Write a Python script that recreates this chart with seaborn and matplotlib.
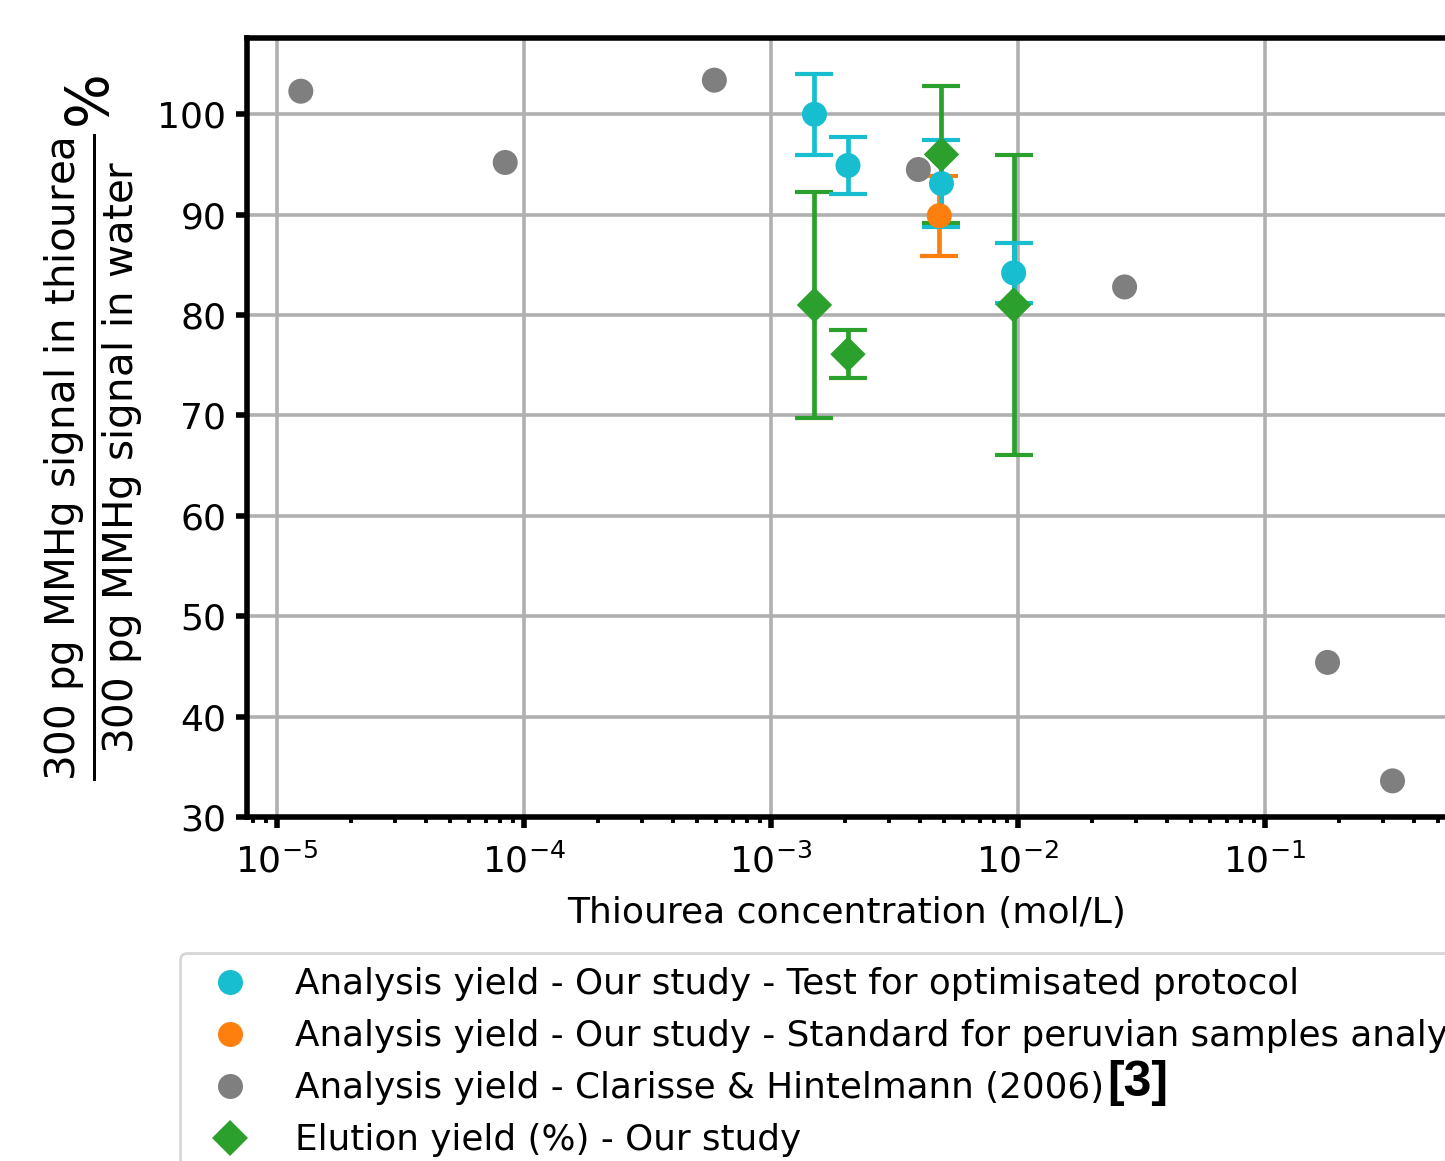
import matplotlib
matplotlib.use("Agg")
import matplotlib.pyplot as plt
from matplotlib.lines import Line2D
import seaborn as sns
import pandas as pd
import numpy as np

# ---- data ----
gray_x = [1.25e-5, 8.4e-5, 5.9e-4, 3.95e-3, 2.7e-2, 0.179, 0.328]
gray_y = [102.3, 95.2, 103.4, 94.5, 82.8, 45.4, 33.6]

cyan_x = [1.5e-3, 2.05e-3, 4.9e-3, 9.6e-3]
cyan_y = [100.0, 94.9, 93.1, 84.2]
cyan_err = [4.05, 2.8, 4.3, 3.0]

orange_x = [4.8e-3]
orange_y = [89.9]
orange_err = [4.0]

green_x = [1.5e-3, 2.05e-3, 4.9e-3, 9.6e-3]
green_y = [81.0, 76.1, 96.0, 81.0]
green_err = [11.3, 2.4, 6.8, 14.9]

labels = [
    "Analysis yield - Our study - Test for optimisated protocol",
    "Analysis yield - Our study - Standard for peruvian samples analysis",
    "Analysis yield - Clarisse & Hintelmann (2006)",
    "Elution yield (%) - Our study",
]
colors = ["#17becf", "#ff7f0e", "#7f7f7f", "#2ca02c"]
markers = ["o", "o", "o", "D"]

DPI = 200
FS = 13
fig = plt.figure(figsize=(1445 / DPI, 1161 / DPI), dpi=DPI)
ax = fig.add_axes([247 / 1445, 1 - 817 / 1161, 1200 / 1445, (817 - 38) / 1161])

df = pd.concat([
    pd.DataFrame({"x": gray_x, "y": gray_y, "series": labels[2]}),
    pd.DataFrame({"x": cyan_x, "y": cyan_y, "series": labels[0]}),
    pd.DataFrame({"x": orange_x, "y": orange_y, "series": labels[1]}),
    pd.DataFrame({"x": green_x, "y": green_y, "series": labels[3]}),
], ignore_index=True)

palette = dict(zip(labels, colors))
mk = dict(zip(labels, markers))

# error bars (below markers)
eb_kw = dict(fmt="none", elinewidth=1.7, capsize=6.9, capthick=1.5, zorder=2)
ax.errorbar(green_x, green_y, yerr=green_err, ecolor=colors[3], **eb_kw)
ax.errorbar(orange_x, orange_y, yerr=orange_err, ecolor=colors[1], **eb_kw)
ax.errorbar(cyan_x, cyan_y, yerr=cyan_err, ecolor=colors[0], **eb_kw)

sns.scatterplot(data=df, x="x", y="y", hue="series", style="series",
                palette=palette, markers=mk, s=81, linewidth=0,
                legend=False, ax=ax, zorder=3)

ax.set_xscale("log")
ax.set_xlim(7.57e-6, 0.545)
ax.set_ylim(30, 107.6)
ax.set_yticks(np.arange(30, 101, 10))

ax.grid(True, which="major", color="#b0b0b0", linewidth=1.3)
ax.set_axisbelow(True)

for sp in ax.spines.values():
    sp.set_linewidth(2.0)
    sp.set_color("black")

ax.tick_params(which="major", length=4, width=2, labelsize=FS, direction="out")
ax.tick_params(axis="x", which="major", pad=5.5)
ax.tick_params(which="minor", length=2.2, width=1.4)

ax.set_xlabel("Thiourea concentration (mol/L)", fontsize=FS, labelpad=6)
ax.set_ylabel(r"$\frac{\mathrm{300\ pg\ MMHg\ signal\ in\ thiourea}}"
              r"{\mathrm{300\ pg\ MMHg\ signal\ in\ water}}\%$", fontsize=20.8,
              labelpad=4)

handles = [Line2D([], [], linestyle="none", marker=m, color=c, markersize=9,
                  markeredgewidth=0)
           for m, c in zip(markers, colors)]
fig.legend(handles, labels, loc="upper left",
           bbox_to_anchor=(180 / 1445, 1 - 953 / 1161),
           bbox_transform=fig.transFigure, borderaxespad=0,
           fontsize=12.9, frameon=True, edgecolor="0.8")

fig.text(1107 / 1445, 1 - 1083 / 1161, "[3]", fontsize=18, fontweight="bold",
         family="Liberation Sans", va="center", ha="left", zorder=20)

fig.savefig("out.png", dpi=DPI)
